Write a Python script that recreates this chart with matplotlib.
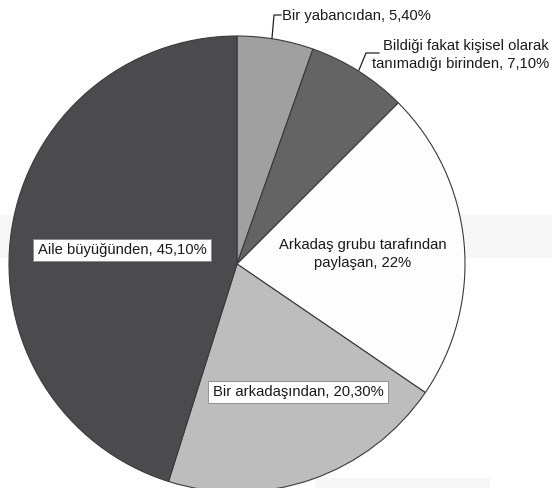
import matplotlib.pyplot as plt
from matplotlib.patches import Rectangle

# ------------------------------------------------------------
# Data
# ------------------------------------------------------------
labels = [
    "Bir yabancıdan, 5,40%",
    "Bildiği fakat kişisel olarak\ntanımadığı birinden, 7,10%",
    "Arkadaş grubu tarafından\npaylaşan, 22%",
    "Bir arkadaşından, 20,30%",
    "Aile büyüğünden, 45,10%",
]
values = [5.4, 7.1, 22.0, 20.3, 45.1]
colors = ["#a0a0a0", "#646464", "#fdfdfd", "#bdbdbd", "#4b4b4d"]

plt.rcParams['font.family'] = ['Liberation Sans', 'DejaVu Sans']

fig = plt.figure(figsize=(5.52, 4.88), dpi=100)
ax = fig.add_axes([0, 0, 1, 1])

# faint scan bands in the background
ax.add_patch(Rectangle((0, 488 - 258), 552, 43, color="#f6f6f6", zorder=0, lw=0))
ax.add_patch(Rectangle((315, 0), 175, 10, color="#f6f6f6", zorder=0, lw=0))

cx, cy, r = 237, 488 - 264, 228
wedges, _ = ax.pie(
    values, colors=colors, startangle=90, counterclock=False,
    center=(cx, cy), radius=r, frame=True,
    wedgeprops=dict(edgecolor="#3a3a3a", linewidth=0.8),
)
ax.set_xlim(0, 552)
ax.set_ylim(0, 488)
ax.axis('off')

fs = 10.6
# outside labels with leader lines
ax.plot([272, 274, 281], [488 - 38, 488 - 15, 488 - 15], color="#222222", lw=0.9)
ax.text(282, 488 - 16, labels[0], ha='left', va='center', fontsize=fs, color="#1a1a1a")

ax.plot([359, 366, 379], [488 - 70, 488 - 53, 488 - 53], color="#222222", lw=0.9)
ax.text(549, 488 - 55, labels[1], ha='right', va='center', fontsize=fs,
        color="#1a1a1a", linespacing=1.45)

# inside labels
ax.text(363, 488 - 254, labels[2], ha='center', va='center', fontsize=fs,
        color="#1a1a1a", linespacing=1.45)
box = dict(boxstyle="square,pad=0.3", facecolor="white", edgecolor="#888888", lw=0.6)
ax.text(298, 488 - 392, labels[3], ha='center', va='center', fontsize=fs,
        color="#1a1a1a", bbox=box)
ax.text(122, 488 - 250, labels[4], ha='center', va='center', fontsize=fs,
        color="#1a1a1a", bbox=box)

fig.savefig("out.png", dpi=100)
